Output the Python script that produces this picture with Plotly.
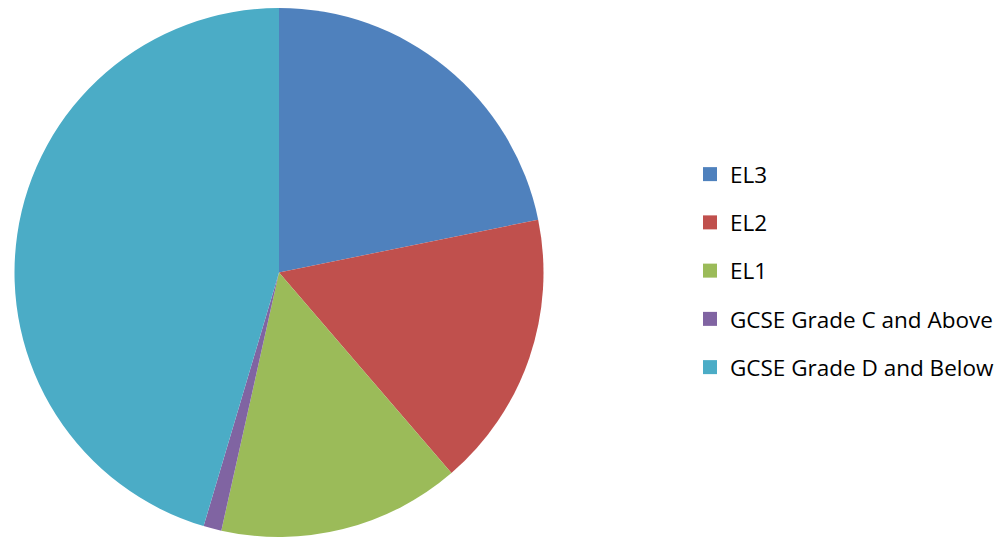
import plotly.graph_objects as go

categories = ["EL3", "EL2", "EL1", "GCSE Grade C and Above", "GCSE Grade D and Below"]
values = [21.8, 16.9, 14.8, 1.1, 45.4]
colors = ["#4F81BD", "#C0504D", "#9BBB59", "#8064A2", "#4BACC6"]

W, H = 1003, 540
fig = go.Figure()
fig.add_trace(go.Pie(
    labels=categories, values=values, sort=False, direction="clockwise", rotation=0,
    marker=dict(colors=colors, line=dict(width=0)),
    textinfo="none", hoverinfo="label+value", showlegend=False,
    domain=dict(x=[6 / W, 536 / W], y=[11 / H, 1]),
))
for i, (c, col) in enumerate(zip(categories, colors)):
    fig.add_trace(go.Scatter(
        x=[None], y=[None], mode="markers", name=c, legendgroup=c,
        marker=dict(symbol="square", size=14, color=col),
    ))

fig.update_layout(
    width=W, height=H,
    margin=dict(l=0, r=0, t=0, b=0),
    paper_bgcolor="white", plot_bgcolor="white",
    xaxis=dict(visible=False), yaxis=dict(visible=False),
    legend=dict(
        x=682 / W, y=1 - 263 / H, xanchor="left", yanchor="middle",
        font=dict(family="Open Sans", size=22.5, color="black"),
        tracegroupgap=16, itemwidth=30,
    ),
)
fig.write_html("out.html")
